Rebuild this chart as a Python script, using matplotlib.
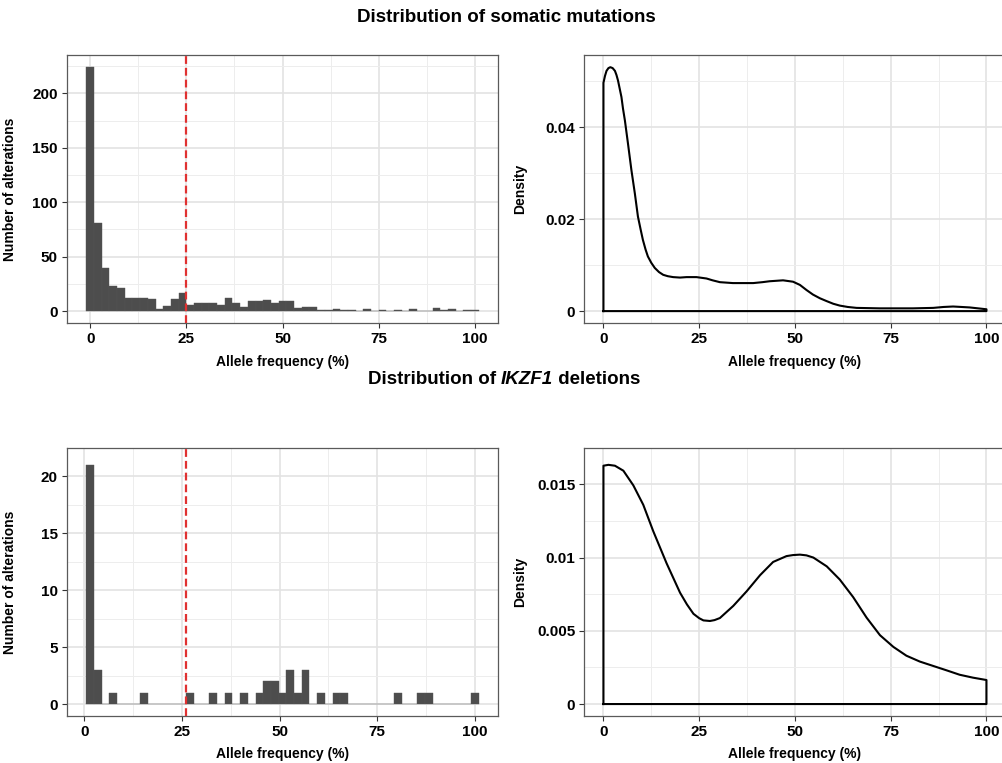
import matplotlib
matplotlib.use('Agg')
import matplotlib.pyplot as plt
import numpy as np

plt.rcParams['font.family'] = ['Liberation Sans', 'DejaVu Sans']
plt.rcParams['font.weight'] = 'bold'

# somatic mutations histogram (binwidth 2, first bin starts at -1)
mut_bin_start = -1.0
mut_bin_width = 2.0
mut_counts = [224, 81, 40, 23, 21, 12, 12, 12, 11, 2,
              5, 11, 17, 6, 7, 7, 7, 6, 12, 7,
              4, 9, 9, 10, 7, 9, 9, 3, 4, 4,
              1, 1, 2, 1, 1, 0, 2, 0, 1, 0,
              1, 0, 2, 0, 0, 3, 1, 2, 0, 1, 1]
mut_cutoff = 25

# IKZF1 deletions histogram
del_bin_start = 0.5
del_bin_width = 1.97
del_counts = [21, 3, 0, 1, 0, 0, 0, 1, 0, 0,
              0, 0, 0, 1, 0, 0, 1, 0, 1, 0,
              1, 0, 1, 2, 2, 1, 3, 1, 3, 0,
              1, 0, 1, 1, 0, 0, 0, 0, 0, 0,
              1, 0, 0, 1, 1, 0, 0, 0, 0, 0, 1]
del_cutoff = 26

# density curves
mut_dens_x = [0, 0.4, 0.8, 1.3, 1.8, 2.4, 3.0, 3.4, 3.8, 4.2, 4.7, 5.1, 5.6, 6.0,
              6.4, 7.3, 8.2, 9.0, 9.7, 10.3, 11.0, 11.6, 12.5, 13.4, 14.5, 15.6,
              16.8, 18.2, 20.0, 21.7, 24.3, 26.9, 28.5, 30.4, 33.8, 39.1, 41.5,
              43.4, 46.9, 49.5, 51.3, 53.0, 54.7, 56.5, 58.2, 60.0, 61.7, 63.8,
              66.1, 72.1, 80.8, 86.1, 88.8, 91.3, 93.5, 95.6, 100]
mut_dens_y = [0.0497, 0.0512, 0.0523, 0.0529, 0.0531, 0.0529, 0.0523, 0.0514,
              0.0502, 0.0486, 0.0466, 0.0441, 0.0415, 0.0390, 0.0365, 0.0307,
              0.0256, 0.0206, 0.0178, 0.0155, 0.0134, 0.0119, 0.0105, 0.0094,
              0.0085, 0.0079, 0.0076, 0.0074, 0.0073, 0.0074, 0.0074, 0.0071,
              0.0067, 0.0063, 0.0061, 0.0061, 0.0063, 0.0065, 0.0067, 0.0064,
              0.0057, 0.0046, 0.0036, 0.0028, 0.0022, 0.0016, 0.0012, 0.0009,
              0.0007, 0.0006, 0.0006, 0.0007, 0.0009, 0.0010, 0.0009, 0.0008,
              0.0004]

del_dens_x = [0, 1.3, 3.0, 5.2, 7.8, 10.4, 13.0, 16.5, 20.0, 21.8, 23.5, 25.0,
              26.1, 27.8, 29.0, 30.4, 33.9, 37.4, 40.9, 44.3, 47.8, 49.5, 51.3,
              53.0, 54.8, 58.3, 61.7, 65.2, 68.7, 72.2, 75.7, 79.1, 82.6, 86.1,
              89.6, 93.0, 96.5, 100]
del_dens_y = [0.01627, 0.01633, 0.01627, 0.01593, 0.01493, 0.0136, 0.0118,
              0.0096, 0.0076, 0.0068, 0.00616, 0.00586, 0.00571, 0.00567,
              0.00573, 0.00587, 0.0067, 0.0077, 0.0088, 0.0097, 0.0101, 0.01017,
              0.0102, 0.01015, 0.0100, 0.0094, 0.0085, 0.0073, 0.0059, 0.0047,
              0.0039, 0.0033, 0.0029, 0.0026, 0.0023, 0.0020, 0.0018, 0.00164]

x_ticks = [0, 25, 50, 75, 100]
mut_yticks = [0, 50, 100, 150, 200]
del_yticks = [0, 5, 10, 15, 20]
mut_dens_ticks = [0, 0.02, 0.04]
mut_dens_labels = ['0', '0.02', '0.04']
del_dens_ticks = [0, 0.005, 0.01, 0.015]
del_dens_labels = ['0', '0.005', '0.01', '0.015']

W, H = 1002, 763
fig = plt.figure(figsize=(W / 100, H / 100), dpi=100)


def px_axes(left, top, right, bottom):
    return fig.add_axes([left / W, 1 - bottom / H, (right - left) / W, (bottom - top) / H])


def style_bw(ax, xticks, yticks, ylabels=None):
    ax.set_facecolor('white')
    for s in ax.spines.values():
        s.set_color('#5a5a5a')
        s.set_linewidth(0.9)
    ax.set_xticks(xticks)
    ax.set_yticks(yticks)
    if ylabels is not None:
        ax.set_yticklabels(ylabels)
    xm = [(a + b) / 2 for a, b in zip(xticks[:-1], xticks[1:])]
    ym = [(a + b) / 2 for a, b in zip(yticks[:-1], yticks[1:])]
    ym.append(yticks[-1] + (yticks[1] - yticks[0]) / 2)
    ax.set_xticks(xm, minor=True)
    ax.set_yticks(ym, minor=True)
    ax.grid(True, which='major', color='#e3e3e3', linewidth=1.2, zorder=0)
    ax.grid(True, which='minor', color='#ededed', linewidth=0.7, zorder=0)
    ax.set_axisbelow(True)
    ax.tick_params(which='major', length=3.5, width=0.8, color='#333333',
                   labelsize=11, labelcolor='black', pad=3)
    ax.tick_params(which='minor', length=0)
    for lab in ax.get_xticklabels() + ax.get_yticklabels():
        lab.set_fontweight('bold')
    ax.set_xlabel('Allele frequency (%)', fontsize=10, fontweight='bold', labelpad=6)


def hist_panel(ax, start, width, counts, cutoff, yticks):
    counts = np.array(counts)
    centers = start + width * (np.arange(len(counts)) + 0.5)
    ax.bar(centers, counts, width=width, color='#4d4d4d', edgecolor='#555555',
           linewidth=0.3, zorder=2)
    ax.axvline(cutoff, color='#e03131', linestyle=(0, (3.5, 1.8)), linewidth=1.6, zorder=3)
    lo, hi = start, start + width * len(counts)
    ax.set_xlim(lo - 0.05 * (hi - lo), hi + 0.05 * (hi - lo))
    ymax = counts.max()
    ax.set_ylim(-0.05 * ymax, 1.05 * ymax)
    style_bw(ax, x_ticks, yticks)
    ax.set_ylabel('Number of alterations', fontsize=10, fontweight='bold')
    ax.yaxis.set_label_coords((17 - 66.7) / 431.6, 0.5)


def dens_panel(ax, xs, ys, yticks, ylabels):
    xs = np.array(xs)
    ys = np.array(ys)
    ax.plot(np.r_[xs[0], xs, xs[-1], xs[0]], np.r_[0, ys, 0, 0],
            color='black', linewidth=1.5, solid_joinstyle='round', zorder=3)
    ax.set_xlim(xs[0] - 0.05 * (xs[-1] - xs[0]), xs[-1] + 0.05 * (xs[-1] - xs[0]))
    ax.set_ylim(-0.05 * ys.max(), 1.05 * ys.max())
    style_bw(ax, x_ticks, yticks, ylabels)
    ax.set_ylabel('Density', fontsize=10, fontweight='bold')
    ax.yaxis.set_label_coords((527 - 584.3) / 421.3, 0.5)


ax1 = px_axes(66.7, 55, 498.3, 323.3)
hist_panel(ax1, mut_bin_start, mut_bin_width, mut_counts, mut_cutoff, mut_yticks)

ax2 = px_axes(584.3, 55, 1005.6, 323.3)
dens_panel(ax2, mut_dens_x, mut_dens_y, mut_dens_ticks, mut_dens_labels)

ax3 = px_axes(66.7, 447.7, 498.3, 716)
hist_panel(ax3, del_bin_start, del_bin_width, del_counts, del_cutoff, del_yticks)

ax4 = px_axes(584.3, 447.7, 1005.6, 716)
dens_panel(ax4, del_dens_x, del_dens_y, del_dens_ticks, del_dens_labels)

# titles
fig.text(506 / W, 1 - 18 / H, 'Distribution of somatic mutations', ha='center', va='center',
         fontsize=13.5, fontweight='bold')

renderer = fig.canvas.get_renderer()
parts = [('Distribution of ', 'normal'), ('IKZF1', 'italic'), (' deletions', 'normal')]
texts = [fig.text(0, 1 - 380 / H, s, ha='left', va='center', fontsize=13.5,
                  fontweight='bold', style=st) for s, st in parts]
widths = [t.get_window_extent(renderer).width for t in texts]
x = 504 - sum(widths) / 2
for t, w in zip(texts, widths):
    t.set_x(x / W)
    x += w

fig.savefig('out.png', dpi=100, facecolor='white')
